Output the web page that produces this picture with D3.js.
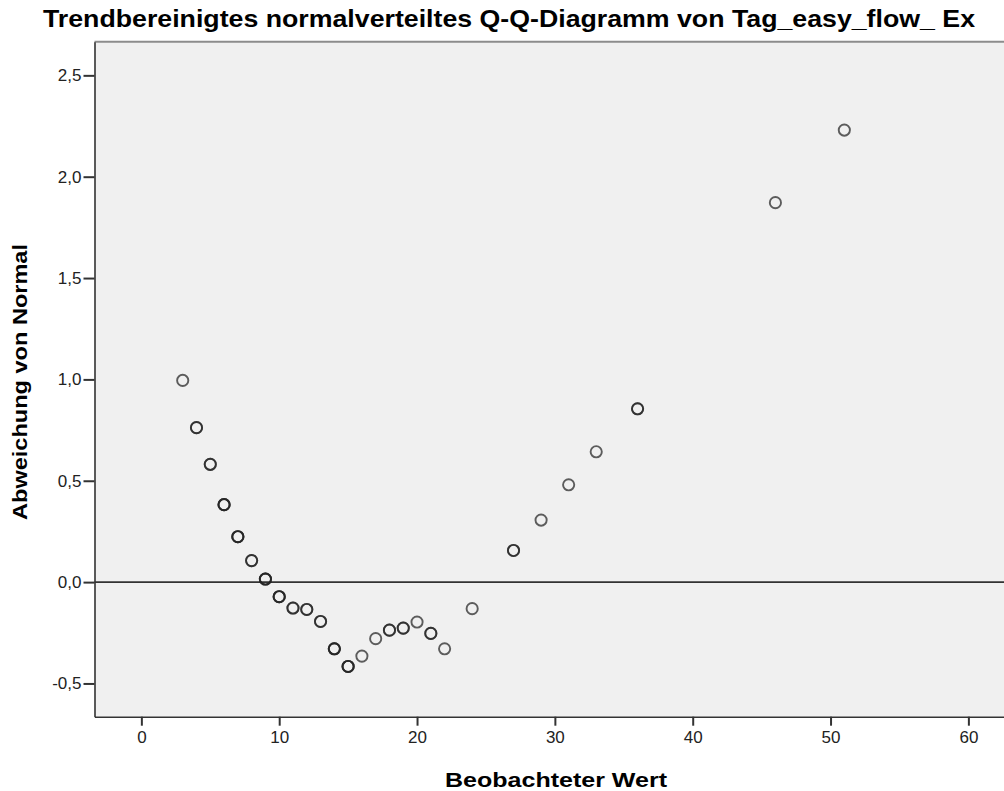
<!DOCTYPE html>
<html>
<head>
<meta charset="utf-8">
<script src="https://cdn.jsdelivr.net/npm/d3@7"></script>
<style>
  body { margin: 0; background: #fff; }
  text { font-family: "Liberation Sans", Arial, sans-serif; }
</style>
</head>
<body>
<script>
// observed values, detrended deviation and how many cases sit on each point
var observed  = [3, 4, 5, 6, 7, 8, 9, 10, 11, 12, 13, 14, 15, 16, 17, 18, 19, 20, 21, 22, 24, 27, 29, 31, 33, 36, 46, 51];
var deviation = [0.995, 0.762, 0.581, 0.382, 0.224, 0.106, 0.015, -0.072, -0.128, -0.135, -0.194, -0.329, -0.416, -0.365,
                 -0.279, -0.237, -0.227, -0.197, -0.253, -0.329, -0.131, 0.156, 0.306, 0.480, 0.643, 0.855, 1.872, 2.230];
var counts    = [1, 2, 2, 3, 3, 2, 3, 3, 2, 2, 2, 3, 3, 1, 1, 2, 2, 1, 2, 1, 1, 2, 1, 1, 1, 2, 1, 1];
var xTicks = [0, 10, 20, 30, 40, 50, 60];
var yTicks = [-0.5, 0, 0.5, 1.0, 1.5, 2.0, 2.5];

var title = "Trendbereinigtes normalverteiltes Q-Q-Diagramm von Tag_easy_flow_ Ex";
var xLabel = "Beobachteter Wert";
var yLabel = "Abweichung von Normal";

var width = 1004,
    height = 791;
var plot = {left: 94.5, top: 41.7, right: 1018, bottom: 716.7};

var svg = d3.select("body")
  .append("svg")
    .attr("width", width)
    .attr("height", height);

var x = d3.scaleLinear().domain([-3.4, 63.6]).range([plot.left, plot.right]);
var y = d3.scaleLinear().domain([-0.664, 2.666]).range([plot.bottom, plot.top]);

// german number format: 0,5 and -0,5
var de = d3.formatLocale({decimal: ",", thousands: ".", grouping: [3], currency: ["", " €"], minus: "-"});
var fmt = de.format(".1f");

// plot background
svg.append("rect")
  .attr("x", plot.left)
  .attr("y", plot.top)
  .attr("width", plot.right - plot.left)
  .attr("height", plot.bottom - plot.top)
  .attr("fill", "#f0f0f0");

svg.append("line")
  .attr("x1", plot.left).attr("x2", plot.right)
  .attr("y1", plot.top).attr("y2", plot.top)
  .attr("stroke", "#8c8c8c")
  .attr("stroke-width", 2);

// zero reference line
svg.append("line")
  .attr("x1", plot.left).attr("x2", plot.right)
  .attr("y1", y(0)).attr("y2", y(0))
  .attr("stroke", "#333")
  .attr("stroke-width", 1.6);

// axes
var xAxis = svg.append("g")
  .attr("transform", "translate(0," + plot.bottom + ")")
  .call(d3.axisBottom(x).tickValues(xTicks).tickSize(9).tickPadding(5).tickSizeOuter(0));
var yAxis = svg.append("g")
  .attr("transform", "translate(" + plot.left + ",0)")
  .call(d3.axisLeft(y).tickValues(yTicks).tickFormat(fmt).tickSize(11).tickPadding(2).tickSizeOuter(0));

[xAxis, yAxis].forEach(function(ax) {
  ax.select(".domain").attr("stroke", "#333").attr("stroke-width", 1.6);
  ax.selectAll(".tick line").attr("stroke", "#333").attr("stroke-width", 2);
  ax.selectAll(".tick text")
    .attr("fill", "#222")
    .style("font-size", "17px")
    .style("font-family", "'Liberation Sans', Arial, sans-serif");
});

// points, one circle per case so ties get darker
var pts = [];
for (var i = 0; i < observed.length; i++) {
  for (var k = 0; k < counts[i]; k++) {
    pts.push({x: observed[i], y: deviation[i]});
  }
}
svg.append("g")
  .selectAll("circle")
  .data(pts)
  .enter()
  .append("circle")
    .attr("cx", function(d) { return x(d.x); })
    .attr("cy", function(d) { return y(d.y); })
    .attr("r", 5.6)
    .attr("fill", "none")
    .attr("stroke", "#222")
    .attr("stroke-opacity", 0.72)
    .attr("stroke-width", 1.9);

// texts
svg.append("text")
  .attr("x", 43)
  .attr("y", 27)
  .attr("textLength", 932)
  .attr("lengthAdjust", "spacingAndGlyphs")
  .style("font-size", "24px")
  .style("font-weight", "bold")
  .attr("fill", "#000")
  .text(title);

svg.append("text")
  .attr("x", 556)
  .attr("y", 786.5)
  .attr("text-anchor", "middle")
  .attr("textLength", 222)
  .attr("lengthAdjust", "spacingAndGlyphs")
  .style("font-size", "21px")
  .style("font-weight", "bold")
  .attr("fill", "#000")
  .text(xLabel);

svg.append("text")
  .attr("transform", "translate(27,382) rotate(-90)")
  .attr("text-anchor", "middle")
  .attr("textLength", 276)
  .attr("lengthAdjust", "spacingAndGlyphs")
  .style("font-size", "21px")
  .style("font-weight", "bold")
  .attr("fill", "#000")
  .text(yLabel);
</script>
</body>
</html>
